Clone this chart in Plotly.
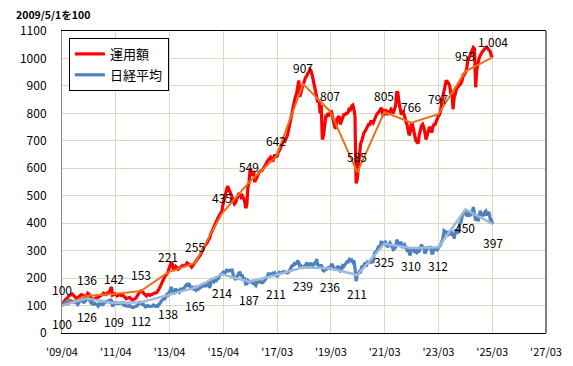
import pandas as pd
import plotly.graph_objects as go

# ---------------- data ----------------
base_date = "2009-05-01"

# month-end readings, 2009-05 .. 2025-03 (2009/5/1 = 100)
red_monthly = [
    115, 125, 135, 140, 138, 130, 128, 136,                      # 2009 May-Dec
    138, 133, 137, 142, 128, 122, 128, 130, 138, 140, 142, 145,  # 2010
    150, 168, 142, 140, 138, 137, 138, 130, 127, 130, 122, 124,  # 2011
    130, 145, 153, 148, 138, 140, 137, 142, 145, 148, 160, 180,  # 2012
    195, 210, 221, 245, 250, 232, 238, 235, 242, 243, 248, 252,  # 2013
    245, 245, 255, 265, 280, 295, 315, 325, 340, 360, 380, 400,  # 2014
    415, 430, 445, 490, 520, 525, 510, 480, 475, 500, 505, 500,  # 2015
    480, 465, 549, 580, 590, 560, 580, 590, 595, 610, 625, 635,  # 2016
    630, 640, 642, 660, 675, 690, 700, 720, 760, 800, 840, 870,  # 2017
    920, 880, 907, 930, 945, 960, 940, 900, 870, 850, 830, 720,  # 2018
    790, 800, 807, 790, 750, 780, 790, 775, 795, 800, 805, 815,  # 2019
    830, 790, 560, 650, 700, 730, 745, 760, 770, 765, 790, 800,  # 2020
    810, 815, 805, 800, 810, 815, 800, 830, 875, 820, 810, 790,  # 2021
    760, 720, 766, 745, 700, 690, 740, 760, 730, 720, 750, 730,  # 2022
    760, 770, 790, 810, 860, 900, 915, 900, 880, 860, 890, 900,  # 2023
    910, 940, 953, 990, 1010, 1030, 1035, 960, 1000, 1020, 1030, 1040,  # 2024
    1035, 1025, 1004,                                            # 2025 Jan-Mar
]
# mid-month readings, 2009-05 .. 2025-03
red_midmonth = [
    108, 122, 128, 138, 142, 135, 125, 130,                      # 2009 May-Dec
    140, 136, 133, 145, 135, 120, 125, 127, 132, 138, 145, 140,  # 2010
    148, 160, 138, 143, 135, 140, 136, 134, 125, 128, 125, 120,  # 2011
    125, 138, 150, 152, 142, 135, 140, 138, 143, 145, 152, 168,  # 2012
    185, 205, 215, 235, 258, 228, 242, 232, 238, 246, 245, 255,  # 2013
    250, 240, 250, 258, 270, 285, 305, 320, 330, 345, 370, 390,  # 2014
    410, 425, 440, 470, 505, 535, 520, 495, 470, 485, 510, 495,  # 2015
    490, 455, 530, 600, 575, 550, 565, 585, 590, 600, 615, 630,  # 2016
    640, 625, 650, 645, 665, 685, 705, 710, 740, 790, 825, 860,  # 2017
    900, 860, 890, 915, 935, 950, 955, 920, 885, 840, 800, 705,  # 2018
    770, 790, 795, 810, 770, 745, 785, 760, 785, 795, 800, 820,  # 2019
    826, 815, 545, 610, 690, 720, 735, 750, 760, 770, 775, 795,  # 2020
    805, 820, 790, 815, 795, 805, 810, 815, 880, 840, 795, 800,  # 2021
    770, 740, 730, 760, 720, 695, 720, 755, 750, 705, 740, 745,  # 2022
    750, 760, 780, 795, 840, 880, 920, 910, 870, 815, 870, 895,  # 2023
    905, 920, 940, 960, 1000, 1020, 1040, 895, 990, 1010, 1025, 1035,  # 2024
    1040, 1030, 1010,                                            # 2025 Jan-Mar
]

blue_monthly = [
    106, 111, 115, 117, 113, 112, 104, 117,                      # 2009 May-Dec
    114, 113, 124, 123, 109, 105, 106, 98, 104, 103, 111, 114,   # 2010
    114, 118, 109, 110, 108, 109, 110, 100, 97, 100, 94, 94,     # 2011
    98, 108, 112, 106, 95, 100, 97, 98, 99, 99, 105, 116,        # 2012
    124, 129, 138, 154, 153, 152, 152, 149, 161, 160, 174, 181,  # 2013
    166, 165, 165, 159, 163, 169, 174, 172, 180, 183, 194, 194,  # 2014
    197, 209, 214, 217, 229, 225, 229, 210, 194, 213, 220, 212,  # 2015
    195, 179, 187, 186, 192, 173, 185, 188, 183, 194, 204, 213,  # 2016
    212, 213, 211, 214, 219, 223, 222, 219, 227, 245, 253, 254,  # 2017
    257, 246, 239, 250, 247, 248, 251, 255, 269, 244, 249, 223,  # 2018
    231, 238, 236, 248, 229, 237, 240, 231, 242, 255, 259, 264,  # 2019
    258, 236, 211, 225, 244, 248, 242, 258, 258, 256, 294, 306,  # 2020
    308, 323, 325, 321, 321, 321, 304, 313, 328, 322, 310, 321,  # 2021
    301, 296, 310, 299, 304, 294, 310, 313, 289, 307, 312, 291,  # 2022
    304, 306, 312, 321, 344, 370, 370, 363, 355, 344, 373, 373,  # 2023
    404, 436, 450, 428, 429, 441, 436, 431, 422, 435, 426, 444,  # 2024
    441, 414, 397,                                               # 2025 Jan-Mar
]
blue_midmonth = [
    103, 112, 103, 118, 114, 114, 109, 112,                      # 2009 May-Dec
    122, 112, 120, 125, 117, 110, 108, 103, 106, 106, 109, 115,  # 2010
    117, 120, 96, 107, 107, 107, 111, 101, 97, 97, 96, 93,       # 2011
    95, 101, 112, 105, 99, 97, 97, 99, 102, 97, 97, 108,         # 2012
    121, 124, 140, 148, 168, 141, 162, 153, 160, 160, 169, 169,  # 2013
    176, 159, 160, 156, 159, 168, 171, 171, 177, 164, 195, 187,  # 2014
    191, 200, 214, 221, 220, 226, 228, 229, 201, 202, 219, 207,  # 2015
    191, 178, 191, 188, 183, 177, 184, 188, 183, 188, 197, 215,  # 2016
    215, 217, 218, 204, 221, 221, 224, 220, 222, 236, 245, 251,  # 2017
    264, 239, 243, 243, 253, 255, 252, 247, 254, 248, 243, 238,  # 2018
    229, 233, 239, 248, 236, 235, 242, 227, 245, 247, 260, 268,  # 2019
    266, 264, 189, 218, 223, 240, 256, 259, 261, 262, 289, 297,  # 2020
    318, 335, 332, 330, 313, 328, 315, 307, 340, 324, 332, 317,  # 2021
    313, 303, 282, 302, 296, 293, 298, 322, 311, 302, 312, 312,  # 2022
    291, 306, 303, 317, 330, 373, 361, 359, 374, 360, 373, 367,  # 2023
    400, 425, 431, 429, 434, 432, 459, 409, 407, 445, 430, 440,  # 2024
    428, 436, 413,                                               # 2025 Jan-Mar
]

# fiscal-year-end points (labelled)
annual_dates = ["2009-05-01"] + [f"{y}-03-31" for y in range(2010, 2026)]
red_annual = [100, 136, 142, 153, 221, 255, 435, 549, 642, 907, 807, 585, 805, 766, 797, 953, 1004]
blue_annual = [100, 126, 109, 112, 138, 165, 214, 187, 211, 239, 236, 211, 325, 310, 312, 450, 397]

x_tick_labels = ["'09/04", "'11/04", "'13/04", "'15/04", "'17/03",
                 "'19/03", "'21/03", "'23/03", "'25/03", "'27/03"]
series_names = ["運用額", "日経平均"]
y_title = "2009/5/1を100"

# ---------------- build series ----------------
month_starts = pd.date_range(base_date, periods=len(red_monthly), freq="MS")
month_ends = month_starts + pd.offsets.MonthEnd(0)
mid_months = month_starts + pd.Timedelta(days=14)


def build(monthly, midmonth):
    idx = [pd.Timestamp(base_date)] + list(mid_months) + list(month_ends)
    vals = [100] + list(midmonth) + list(monthly)
    return pd.Series(vals, index=idx).sort_index()


red = build(red_monthly, red_midmonth)
blue = build(blue_monthly, blue_midmonth)

FONT = "Noto Sans CJK JP, Noto Sans, sans-serif"

fig = go.Figure()
fig.add_trace(go.Scatter(x=red.index, y=red.values, mode="lines", name=series_names[0],
                         line=dict(color="#FF0000", width=3.2), legendrank=1, legendgroup="a"))
fig.add_trace(go.Scatter(x=blue.index, y=blue.values, mode="lines", name=series_names[1],
                         line=dict(color="#4F81BD", width=3.2), legendrank=2, legendgroup="b"))
fig.add_trace(go.Scatter(x=pd.to_datetime(annual_dates), y=red_annual, mode="lines",
                         line=dict(color="#E8721C", width=2), showlegend=False))
fig.add_trace(go.Scatter(x=pd.to_datetime(annual_dates), y=blue_annual, mode="lines",
                         line=dict(color="#9DB9DC", width=2.5), showlegend=False))

annotations = []
for d, v in zip(annual_dates, red_annual):
    annotations.append(dict(x=d, y=v, xref="x", yref="y", text=f"{v:,}", showarrow=False,
                            yshift=16, font=dict(family=FONT, size=12, color="black")))
for d, v in zip(annual_dates, blue_annual):
    annotations.append(dict(x=d, y=v, xref="x", yref="y", text=f"{v:,}", showarrow=False,
                            yshift=-18, font=dict(family=FONT, size=12, color="black")))
annotations.append(dict(x=-0.1, y=1.053, xref="paper", yref="paper", text=f"<b>{y_title}</b>",
                        showarrow=False, xanchor="left", yanchor="middle",
                        font=dict(family=FONT, size=10.5, color="black")))

x_start = pd.Timestamp(base_date)
x_end = pd.Timestamp("2027-03-23")
tickvals = pd.date_range(x_start, x_end, periods=len(x_tick_labels))

# the page body adds an 8px offset; margins compensate for it
fig.update_layout(
    width=573, height=366,
    margin=dict(l=49, r=35, t=23, b=41),
    paper_bgcolor="white", plot_bgcolor="white",
    font=dict(family=FONT, color="black"),
    annotations=annotations,
    legend=dict(x=0.0143, y=0.977, xanchor="left", yanchor="top",
                bgcolor="white", bordercolor="black", borderwidth=1,
                font=dict(family=FONT, size=13, color="black"),
                traceorder="grouped", tracegroupgap=1),
    shapes=[dict(type="line", xref="paper", yref="paper", x0=1, x1=1, y0=0, y1=1,
                 line=dict(color="black", width=1))],
)
fig.update_xaxes(range=[x_start, x_end], tickvals=tickvals, ticktext=x_tick_labels,
                 showgrid=True, gridcolor="#DDD8C2", gridwidth=1,
                 showline=True, linecolor="black", linewidth=1, mirror=True,
                 ticks="", tickfont=dict(family=FONT, size=11, color="black"),
                 ticklabelstandoff=9, zeroline=False)
fig.update_yaxes(range=[0, 1100], dtick=100, tick0=0,
                 showgrid=True, gridcolor="#DDD8C2", gridwidth=1,
                 showline=True, linecolor="#868686", linewidth=1,
                 ticks="", tickfont=dict(family=FONT, size=12, color="black"),
                 ticklabelstandoff=12, zeroline=False)

fig.write_html("out.html")
